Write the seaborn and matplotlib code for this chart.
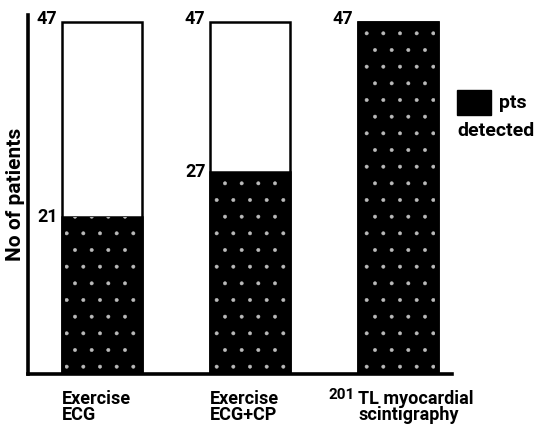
import matplotlib
matplotlib.use('Agg')
import matplotlib.pyplot as plt
import seaborn as sns
import pandas as pd
from matplotlib.patches import Rectangle

categories = ["Exercise\nECG", "Exercise\nECG+CP", "TL myocardial\nscintigraphy"]
prefixes = ["", "", "201"]
total_pts = [47, 47, 47]
detected_pts = [21, 27, 47]
ylabel = "No of patients"
legend_lines = ["pts", "detected"]

sns.set_theme(style="white")
plt.rcParams['font.family'] = ['Roboto', 'DejaVu Sans']
plt.rcParams['hatch.linewidth'] = 0.35

W, H = 536, 424
fig = plt.figure(figsize=(W / 100, H / 100), dpi=100)
ax = fig.add_axes([28 / W, 1 - 374 / H, (452 - 28) / W, (374 - 15) / H])

df = pd.DataFrame({"test": categories, "total": total_pts, "detected": detected_pts})
bw = 0.54
sns.barplot(data=df, x="test", y="total", color="white", edgecolor="black",
            linewidth=1.8, width=bw, saturation=1, ax=ax)
sns.barplot(data=df, x="test", y="detected", color="black", edgecolor="black",
            linewidth=1.8, width=bw, saturation=1, ax=ax)
sns.barplot(data=df, x="test", y="detected", fill=False, edgecolor="#bbbbbb",
            linewidth=0, width=bw * 0.92, hatch=".", ax=ax)

ax.set_xlim(-0.5, 2.365)
ax.set_ylim(0, 47.9)
ax.set_xticks([])
ax.set_yticks([])
ax.set_xlabel("")
for s in ["top", "right"]:
    ax.spines[s].set_visible(False)
for s in ["left", "bottom"]:
    ax.spines[s].set_color("black")
    ax.spines[s].set_linewidth(2.6)

ax.set_ylabel(ylabel, fontsize=15, fontweight="bold", color="black", labelpad=2)

for i, (t, d) in enumerate(zip(total_pts, detected_pts)):
    left = i - bw / 2
    ax.text(left - 0.03, t + 0.4, str(t), ha="right", va="center",
            fontsize=13, fontweight="bold", color="black")
    if d < t:
        ax.text(left - 0.03, d, str(d), ha="right", va="center",
                fontsize=13, fontweight="bold", color="black")
    ax.text(left, -2.2, categories[i], ha="left", va="top", fontsize=13,
            fontweight="bold", color="black", linespacing=0.85, clip_on=False)
    if prefixes[i]:
        ax.text(left - 0.02, -1.9, prefixes[i], ha="right", va="top", fontsize=11,
                fontweight="bold", color="black", clip_on=False)

fig.add_artist(Rectangle((457 / W, 1 - 115 / H), 34 / W, 25 / H,
                         transform=fig.transFigure, facecolor="black",
                         edgecolor="black", hatch="."))
fig.text(499 / W, 1 - 103 / H, legend_lines[0], ha="left", va="center",
         fontsize=14, fontweight="bold", color="black")
fig.text(457 / W, 1 - 131 / H, legend_lines[1], ha="left", va="center",
         fontsize=14, fontweight="bold", color="black")

fig.savefig("out.png", dpi=100, facecolor="white")
